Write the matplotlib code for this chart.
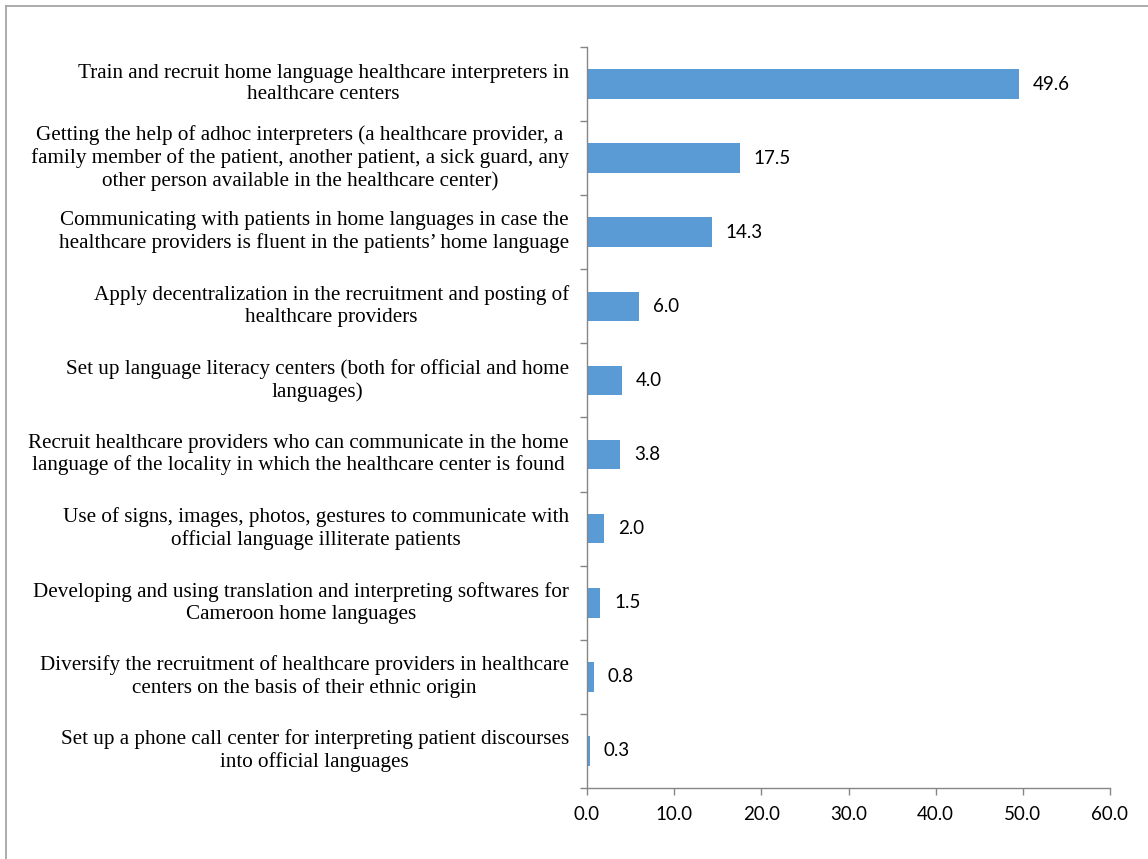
import matplotlib
matplotlib.use("Agg")
import matplotlib.pyplot as plt
import matplotlib.transforms as mtransforms
from matplotlib.lines import Line2D
import numpy as np

labels = [
    "Train and recruit home language healthcare interpreters in\nhealthcare centers",
    "Getting the help of adhoc interpreters (a healthcare provider, a\n"
    "family member of the patient, another patient, a sick guard, any\n"
    "other person available in the healthcare center)",
    "Communicating with patients in home languages in case the\n"
    "healthcare providers is fluent in the patients\u2019 home language",
    "Apply decentralization in the recruitment and posting of\nhealthcare providers",
    "Set up language literacy centers (both for official and home\nlanguages)",
    "Recruit healthcare providers who can communicate in the home\n"
    "language of the locality in which the healthcare center is found",
    "Use of signs, images, photos, gestures to communicate with\n"
    "official language illiterate patients",
    "Developing and using translation and interpreting softwares for\n"
    "Cameroon home languages",
    "Diversify the recruitment of healthcare providers in healthcare\n"
    "centers on the basis of their ethnic origin",
    "Set up a phone call center for interpreting patient discourses\n"
    "into official languages",
]
values = [49.6, 17.5, 14.3, 6.0, 4.0, 3.8, 2.0, 1.5, 0.8, 0.3]
xticks = [0, 10, 20, 30, 40, 50, 60]

axis_grey = "#868686"
bar_blue = "#5B9BD5"

fig = plt.figure(figsize=(11.48, 8.59), dpi=100)
ax = fig.add_axes([587 / 1148, 1 - 788 / 859, (1110 - 587) / 1148, (788 - 47) / 859])

n = len(values)
ypos = np.arange(n)[::-1]
ax.barh(ypos, values, height=0.4, color=bar_blue, zorder=2)

for y, v in zip(ypos, values):
    ax.annotate(f"{v:.1f}", (v, y), xytext=(10, 0), textcoords="offset points",
                ha="left", va="center", fontsize=13.5, family="Lato", color="black")

ax.set_xlim(0, 60)
ax.set_ylim(-0.5, n - 0.5)

ax.set_xticks(xticks)
ax.set_xticklabels([f"{t:.1f}" for t in xticks], family="Lato", fontsize=13.5)
ax.tick_params(axis="x", direction="out", length=5, width=1, color=axis_grey, pad=8)

# category boundaries as major ticks, labels on minor ticks
ax.set_yticks(np.arange(-0.5, n, 1.0))
ax.set_yticklabels([])
ax.set_yticks(ypos, minor=True)
ax.set_yticklabels(labels, minor=True, family="Liberation Serif", fontsize=15.2,
                   multialignment="center", linespacing=1.2)
ax.tick_params(axis="y", which="major", direction="out", length=5, width=1, color=axis_grey)
ax.tick_params(axis="y", which="minor", length=0, pad=13)

# labels sit a little above the bar centre, as in the source
lift = mtransforms.ScaledTranslation(0, 4 / 100, fig.dpi_scale_trans)
for lbl in ax.get_yticklabels(minor=True):
    lbl.set_transform(lbl.get_transform() + lift)

for side in ["top", "right"]:
    ax.spines[side].set_visible(False)
for side in ["left", "bottom"]:
    ax.spines[side].set_color(axis_grey)
    ax.spines[side].set_linewidth(1)

# outer chart border
fig.add_artist(Line2D([6 / 1148, 6 / 1148], [0, 1 - 6 / 859], color="#A6A6A6", lw=1.3))
fig.add_artist(Line2D([6 / 1148, 1], [1 - 6 / 859, 1 - 6 / 859], color="#A6A6A6", lw=1.3))

fig.savefig("out.png", dpi=100)
